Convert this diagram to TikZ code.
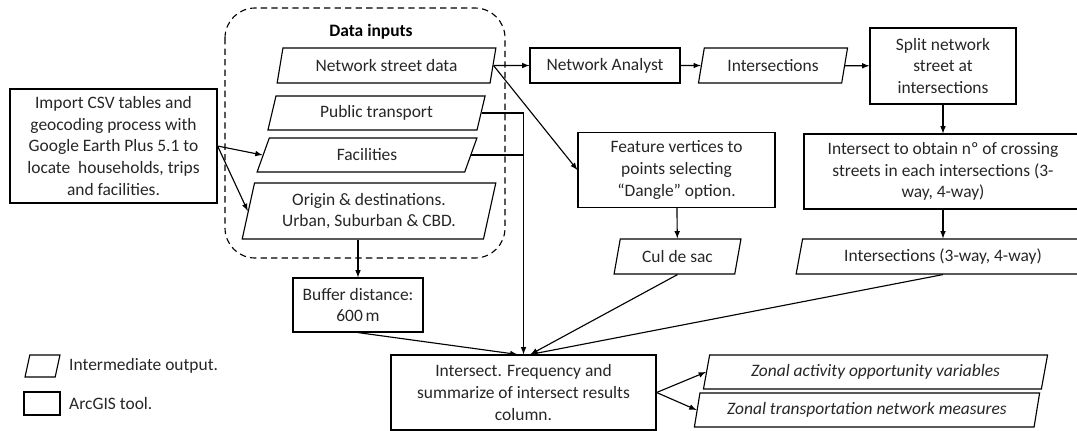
\documentclass[tikz,border=0pt]{standalone}
\usepackage{fontspec}
\setmainfont{Carlito}
\usetikzlibrary{shapes.geometric}

\begin{document}
\begin{tikzpicture}[x=0.025cm,y=-0.025cm,line width=0.8pt,
		tool/.style={draw,rectangle,align=center,inner sep=2pt},
		output/.style={draw,trapezium,trapezium left angle=77,trapezium right angle=103,trapezium stretches=true,align=center,inner sep=2pt},
		font=\fontsize{12.4}{15.5}\selectfont,text=black!85]
	\useasboundingbox (0,0) rectangle (1077,430);
	\clip (0,0) rectangle (1077,430);
	% data inputs group
	\draw[dash pattern=on 4.5pt off 3pt,rounded corners=0.75cm] (225,8) rectangle (505,258);
	\node[font=\fontsize{12.4}{15.5}\selectfont\bfseries,text=black] at (371,32) (inputs) {Data inputs};
	\node[output,minimum width=5.475cm,minimum height=0.875cm] at (386.5,65.5) (street) {Network street data};
	\node[output,minimum width=5.475cm,minimum height=0.85cm] at (376.5,113) (transport) {Public transport};
	\node[output,minimum width=5.5cm,minimum height=0.85cm] at (367,155) (facil) {Facilities};
	\node[output,minimum width=6.35cm,minimum height=1.4cm] at (369,211) (origin) {Origin \& destinations.\\Urban, Suburban \& CBD.};

	\node[tool,minimum width=5.175cm,minimum height=2.85cm] at (113.5,146) (import) {Import CSV tables and\\geocoding process with\\Google Earth Plus 5.1 to\\locate\ \ households, trips\\and facilities.};

	\node[tool,minimum width=3.75cm,minimum height=0.875cm] at (605,65.5) (analyst) {Network Analyst};
	\node[output,minimum width=3.75cm,minimum height=0.875cm] at (773,65.5) (inters) {Intersections};
	\node[tool,minimum width=3.65cm,minimum height=1.9cm] at (943,66) (split) {Split network\\street at\\intersections};
	\node[tool,minimum width=4.925cm,minimum height=1.875cm] at (676.5,170) (feature) {Feature vertices to\\points selecting\\“Dangle” option.};
	% right side boxes run past the edge of the page
	\node[tool,minimum width=8cm,minimum height=1.875cm] at (964,171.5) (crossing) {};
	\node[align=center] at (943,171.5) (crossingtxt) {Intersect to obtain nº of crossing\\streets in each intersections (3-\\way, 4-way)};
	\node[output,minimum width=3.175cm,minimum height=0.875cm] at (677.5,256.5) (culdesac) {Cul de sac};
	\node[output,minimum width=8.4cm,minimum height=0.875cm] at (964,256.5) (inters34) {Intersections (3-way, 4-way)\hspace*{1.05cm}};
	\node[tool,minimum width=3.25cm,minimum height=1.35cm] at (358,305) (buffer) {Buffer distance:\\600\,m};
	\node[tool,minimum width=6.625cm,minimum height=1.875cm] at (523.5,392.5) (freq) {Intersect. Frequency and\\summarize of intersect results\\column.};
	\node[output,minimum width=8.625cm,minimum height=0.85cm,font=\fontsize{12.4}{15.5}\selectfont\itshape] at (875.5,372) (zonalact) {Zonal activity opportunity variables};
	\node[output,minimum width=8.65cm,minimum height=0.85cm,font=\fontsize{12.4}{15.5}\selectfont\itshape] at (867,410) (zonaltr) {Zonal transportation network measures};

	% legend
	\node[output,minimum width=0.875cm,minimum height=0.55cm] at (42.5,366) (legout) {\phantom{M}};
	\node[anchor=west] at (64,366) (legouttxt) {Intermediate output.};
	\node[tool,minimum width=0.9cm,minimum height=0.575cm,inner sep=1pt] at (42,403.5) (legtool) {};
	\node[anchor=west] at (64,404) (legtooltxt) {ArcGIS tool.};

	\path[-latex] (street.east) edge (analyst)
			(street.east) edge (feature.west)
			(analyst) edge (inters)
			(inters) edge (split)
			(split) edge (split |- crossing.north)
			(split |- crossing.south) edge (split |- inters34.north)
			(feature) edge (culdesac)
			(import.east) edge (facil.west)
			(import.east) edge (origin.west)
			(origin.south -| buffer.north) edge (buffer.north)
			(buffer.south) edge ([xshift=-0.15cm]freq.north)
			(culdesac.south) edge ([xshift=0.17cm]freq.north)
			(inters34.south -| split) edge ([xshift=0.17cm]freq.north)
			(freq.east) edge (zonalact.west)
			(freq.east) edge (zonaltr.west);
	\draw[-latex] (transport.east) -| (freq.north);
	\draw (facil.east) -- (facil.east -| freq.north);
\end{tikzpicture}
\end{document}
